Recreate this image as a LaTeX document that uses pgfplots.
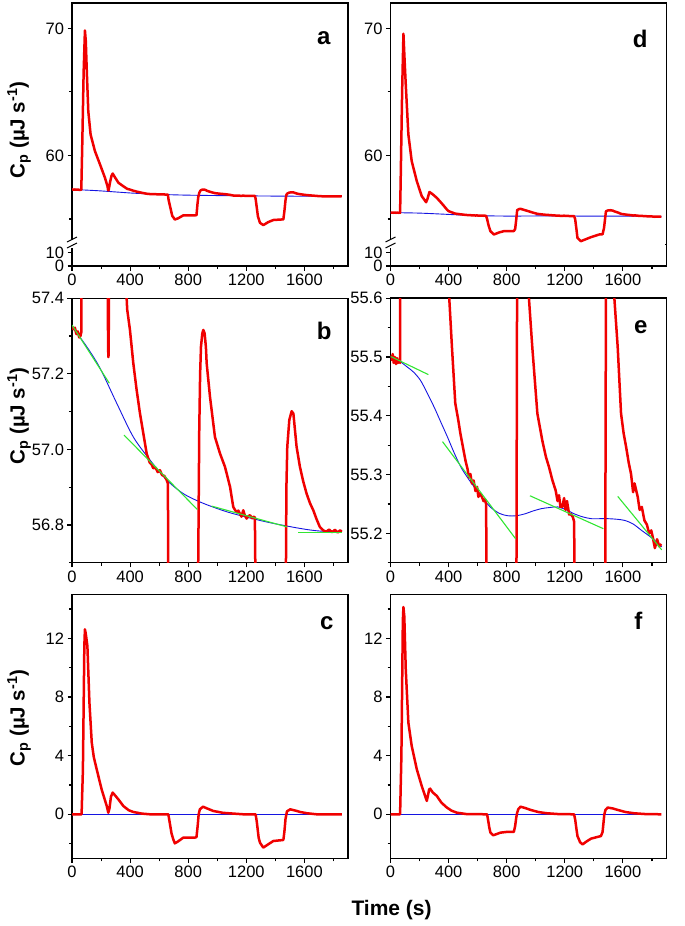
\documentclass[border=0pt]{standalone}
\usepackage{pgfplots}
\pgfplotsset{compat=1.18}
\usepackage{pgfplotstable}
\usepackage{fontspec}
\setmainfont{Liberation Sans}
\definecolor{cred}{RGB}{240,0,0}
\definecolor{cblue}{RGB}{20,20,225}
\definecolor{cgreen}{RGB}{50,230,50}

% ---- panel a/b measured trace (b is a zoom of a) ----
\pgfplotstableread{
t v
0 57.325
10 57.318
20 57.322
30 57.305
40 57.312
50 57.296
58 57.300
64 57.31
70 60.5
80 66.5
89 69.84
95 69.0
101 66.9
112 63.5
128 61.65
158 60.34
193 59.29
227 58.24
245 57.55
248 57.30
250 57.244
252 57.25
255 57.45
262 57.9
272 58.4
280 58.58
300 58.2
320 57.85
353 57.58
380 57.37
399 57.316
422 57.228
445 57.157
468 57.095
491 57.042
514 56.989
535 56.965
548 56.960
560 56.950
575 56.952
590 56.940
605 56.945
620 56.932
635 56.930
652 56.919
660 56.910
665 56.50
675 56.00
690 55.25
708 54.96
730 55.05
765 55.28
834 55.28
857 55.30
864 56.20
869 56.70
876 57.05
882 57.20
888 57.272
897 57.307
904 57.316
913 57.307
922 57.270
927 57.228
950 57.139
984 57.033
1019 56.989
1053 56.954
1088 56.901
1110 56.848
1122 56.840
1133 56.834
1145 56.838
1156 56.830
1167 56.822
1179 56.839
1190 56.825
1202 56.817
1213 56.823
1225 56.826
1240 56.818
1250 56.822
1259 56.820
1264 56.60
1280 55.20
1294 54.70
1317 54.52
1350 54.75
1386 54.92
1455 54.97
1462 55.60
1470 56.50
1476 56.90
1482 57.007
1496 57.078
1512 57.101
1524 57.095
1546 57.007
1569 56.954
1592 56.915
1615 56.883
1638 56.858
1661 56.839
1684 56.815
1706 56.795
1729 56.786
1750 56.782
1770 56.788
1790 56.781
1810 56.787
1830 56.780
1845 56.786
1857 56.782
}\tabA

\pgfplotstableread{
t v
0 57.325
101 57.272
193 57.215
308 57.122
422 57.033
537 56.972
652 56.919
766 56.883
881 56.861
996 56.844
1110 56.830
1340 56.808
1569 56.791
1706 56.784
1857 56.783
}\blueA

% ---- panel d/e measured trace ----
\pgfplotstableread{
t v
0 55.503
8 55.495
15 55.505
22 55.490
30 55.500
38 55.488
45 55.498
52 55.490
60 55.493
66 55.490
70 58.0
80 65.0
89 69.58
97 67.5
105 65.59
123 61.65
146 59.55
181 57.98
215 56.80
245 56.32
255 56.60
268 57.13
290 56.95
319 56.66
355 56.20
388 55.75
400 55.62
423 55.517
446 55.421
465 55.395
481 55.370
500 55.345
516 55.324
530 55.310
540 55.295
550 55.301
560 55.285
572 55.290
585 55.272
596 55.279
605 55.262
615 55.268
630 55.262
640 55.255
650 55.258
658 55.250
665 55.00
675 54.50
688 54.04
711 53.78
750 53.95
780 54.04
849 54.05
858 54.20
866 55.00
872 55.70
885 55.78
895 55.80
930 55.68
953 55.60
976 55.517
1011 55.404
1045 55.358
1070 55.330
1091 55.313
1115 55.290
1137 55.273
1150 55.255
1160 55.265
1170 55.245
1183 55.245
1195 55.260
1205 55.240
1215 55.255
1230 55.232
1241 55.233
1255 55.228
1264 55.220
1271 55.00
1280 54.20
1287 53.51
1310 53.25
1380 53.57
1437 53.78
1460 53.80
1470 54.30
1478 55.10
1483 55.60
1495 55.67
1513 55.69
1530 55.66
1541 55.60
1564 55.517
1587 55.404
1605 55.370
1622 55.347
1640 55.320
1656 55.301
1670 55.270
1680 55.285
1702 55.262
1715 55.240
1730 55.245
1748 55.222
1765 55.215
1780 55.200
1795 55.205
1806 55.193
1820 55.175
1835 55.190
1850 55.178
1864 55.182
}\tabD

\pgfplotstableread{
t v
0 55.499
50 55.495
115 55.483
160 55.474
207 55.460
250 55.440
300 55.415
345 55.390
392 55.364
440 55.336
484 55.313
530 55.295
576 55.279
630 55.261
691 55.244
750 55.234
807 55.230
865 55.230
922 55.233
980 55.238
1037 55.242
1095 55.244
1152 55.245
1210 55.240
1267 55.233
1325 55.228
1383 55.225
1440 55.225
1498 55.225
1560 55.224
1613 55.222
1670 55.216
1729 55.205
1800 55.192
1867 55.177
}\blueD

\pgfplotsset{
  every axis/.append style={
    scale only axis, width=276pt,
    xmin=0, xmax=1900,
    anchor=south west,
    axis line style={line width=1.4pt},
    tick align=outside,
    tick pos=left,
    major tick length=4.5pt, minor tick length=3pt,
    tick style={black, line width=1.1pt},
    ticklabel style={font=\fontsize{16.5}{18}\selectfont},
    /pgf/number format/assume math mode=true,
    /pgf/number format/1000 sep={},
    xtick={0,400,800,1200,1600},
    minor xtick={200,600,1000,1400,1800},
  },
  redline/.style={cred, line width=2.5pt, line join=round},
  blueline/.style={cblue, line width=0.9pt, smooth},
  greenline/.style={cgreen, line width=1.1pt},
}

\begin{document}
\begin{tikzpicture}
\useasboundingbox (0,0) rectangle (685pt,-926pt);

% ================= panel a =================
\begin{axis}[at={(72pt,-266pt)}, height=21.6pt, ymin=0, ymax=16,
  ytick={0,10}, minor ytick={}]
\end{axis}
\begin{axis}[at={(72pt,-244.4pt)}, height=241.4pt, ymin=53, ymax=72,
  ytick={60,70}, minor ytick={55,65}, xtick=\empty, minor xtick={}]
\addplot[blueline] table[x=t,y=v] {\blueA};
\addplot[redline] table[x=t,y=v] {\tabA};
\end{axis}

% ================= panel d =================
\begin{axis}[at={(390.5pt,-266pt)}, height=21.6pt, ymin=0, ymax=16,
  ytick={0,10}, minor ytick={}]
\end{axis}
\begin{axis}[at={(390.5pt,-244.4pt)}, height=241.4pt, ymin=53, ymax=72,
  ytick={60,70}, minor ytick={55,65}, xtick=\empty, minor xtick={}]
\addplot[blueline] table[x=t,y=v] {\blueD};
\addplot[redline] table[x=t,y=v] {\tabD};
\end{axis}

% axis breaks
\foreach \xx/\xr in {72/348, 390.5/666.5}{
  \draw[white, line width=3pt] (\xx pt+1.5pt,-244.4pt) -- (\xr pt-1.5pt,-244.4pt);
  \fill[white] (\xx pt-1.2pt,-240pt) rectangle (\xx pt+1.2pt,-248pt);
  \draw[line width=1pt] (\xx pt-5pt,-242pt) -- (\xx pt+5pt,-237pt);
  \draw[line width=1pt] (\xx pt-5pt,-248pt) -- (\xx pt+5pt,-243pt);
}

% ================= panel b =================
\begin{axis}[at={(72pt,-562.8pt)}, height=264.6pt, ymin=56.7, ymax=57.4,
  ytick={56.8,57.0,57.2,57.4}, minor ytick={56.7,56.9,57.1,57.3},
  yticklabel style={/pgf/number format/.cd, fixed, fixed zerofill, precision=1}]
\addplot[blueline] table[x=t,y=v] {\blueA};
\addplot[redline] table[x=t,y=v] {\tabA};
\addplot[greenline] coordinates {(0,57.329) (257,57.175)};
\addplot[greenline] coordinates {(358,57.038) (863,56.841)};
\addplot[greenline] coordinates {(961,56.850) (1480,56.795)};
\addplot[greenline] coordinates {(1558,56.780) (1857,56.780)};
\end{axis}

% ================= panel e =================
\begin{axis}[at={(390.5pt,-562.8pt)}, height=264.6pt, ymin=55.15, ymax=55.6,
  ytick={55.2,55.3,55.4,55.5,55.6}, minor ytick={55.15,55.25,55.35,55.45,55.55},
  yticklabel style={/pgf/number format/.cd, fixed, fixed zerofill, precision=1}]
\addplot[blueline] table[x=t,y=v] {\blueD};
\addplot[redline] table[x=t,y=v] {\tabD};
\addplot[greenline] coordinates {(0,55.501) (261,55.470)};
\addplot[greenline] coordinates {(358,55.356) (861,55.191)};
\addplot[greenline] coordinates {(960,55.264) (1465,55.208)};
\addplot[greenline] coordinates {(1564,55.263) (1867,55.172)};
\end{axis}

% ================= panel c =================
\begin{axis}[at={(72pt,-858.3pt)}, height=264pt, ymin=-3, ymax=15,
  ytick={0,4,8,12}, minor ytick={-2,2,6,10,14}]
\addplot[cblue, line width=0.9pt] coordinates {(0,0) (1857,0)};
\addplot[redline] coordinates {
(0,0) (40,0) (66,0) (75,3) (85,11.5) (89,12.61) (95,12.3) (106,11.47) (120,7.61)
(136,4.89) (150,3.9) (170,3.07) (204,1.70) (239,0.57) (250,0.11) (258,0.4) (268,1.2)
(280,1.48) (300,1.25) (319,1.02) (353,0.57) (390,0.28) (422,0.16) (480,0.05) (537,0)
(663,0) (670,-0.4) (685,-1.3) (697,-1.70) (708,-1.98) (730,-1.85) (766,-1.59)
(846,-1.59) (857,-1.55) (865,-0.8) (872,0.0) (880,0.34) (902,0.52) (930,0.4)
(972,0.23) (1040,0.1) (1110,0.05) (1180,0) (1264,0) (1272,-0.5) (1285,-1.6)
(1294,-1.93) (1317,-2.27) (1350,-2.05) (1386,-1.82) (1455,-1.75) (1462,-1.2)
(1470,-0.3) (1480,0.2) (1502,0.34) (1540,0.25) (1570,0.16) (1620,0.07) (1685,0) (1857,0)};
\end{axis}

% ================= panel f =================
\begin{axis}[at={(390.5pt,-858.3pt)}, height=264pt, ymin=-3, ymax=15,
  ytick={0,4,8,12}, minor ytick={-2,2,6,10,14}]
\addplot[cblue, line width=0.9pt] coordinates {(0,0) (1864,0)};
\addplot[redline] coordinates {
(0,0) (40,0) (66,0) (75,4) (85,13.2) (89,14.13) (95,13.5) (105,9.88) (123,6.25)
(146,4.66) (181,3.07) (215,1.93) (240,1.2) (250,0.91) (258,1.3) (266,1.7) (273,1.75)
(290,1.5) (319,1.25) (350,0.8) (388,0.46) (420,0.25) (457,0.11) (520,0.02) (665,0)
(672,-0.4) (680,-0.9) (688,-1.25) (707,-1.43) (730,-1.35) (757,-1.25) (800,-1.2)
(849,-1.2) (858,-0.8) (866,-0.2) (872,0.11) (880,0.35) (895,0.52) (930,0.42)
(964,0.3) (1020,0.15) (1079,0.07) (1150,0.02) (1264,0) (1272,-0.4) (1280,-1.0)
(1287,-1.48) (1305,-1.9) (1322,-2.05) (1350,-1.85) (1380,-1.66) (1449,-1.48)
(1460,-1.2) (1467,-0.5) (1472,0) (1480,0.3) (1495,0.46) (1530,0.4) (1564,0.3)
(1620,0.15) (1679,0.07) (1750,0.02) (1864,0)};
\end{axis}

% ---- labels ----
\foreach \yy in {130,416,718}{
  \node[rotate=90, font=\bfseries\fontsize{20.5}{22}\selectfont] at (19pt,-\yy pt)
    {C\textsubscript{p} (µJ s\textsuperscript{-1})};
}
\node[anchor=base east, font=\bfseries\fontsize{24}{26}\selectfont] at (334pt,-44pt) {a};
\node[anchor=base east, font=\bfseries\fontsize{24}{26}\selectfont] at (651pt,-47pt) {d};
\node[anchor=base east, font=\bfseries\fontsize{24}{26}\selectfont] at (335pt,-339pt) {b};
\node[anchor=base east, font=\bfseries\fontsize{24}{26}\selectfont] at (651pt,-333pt) {e};
\node[anchor=base east, font=\bfseries\fontsize{24}{26}\selectfont] at (337pt,-629pt) {c};
\node[anchor=base east, font=\bfseries\fontsize{24}{26}\selectfont] at (646pt,-629pt) {f};
\node[anchor=base west, font=\bfseries\fontsize{21}{24}\selectfont] at (348pt,-915pt) {Time (s)};
\end{tikzpicture}
\end{document}
